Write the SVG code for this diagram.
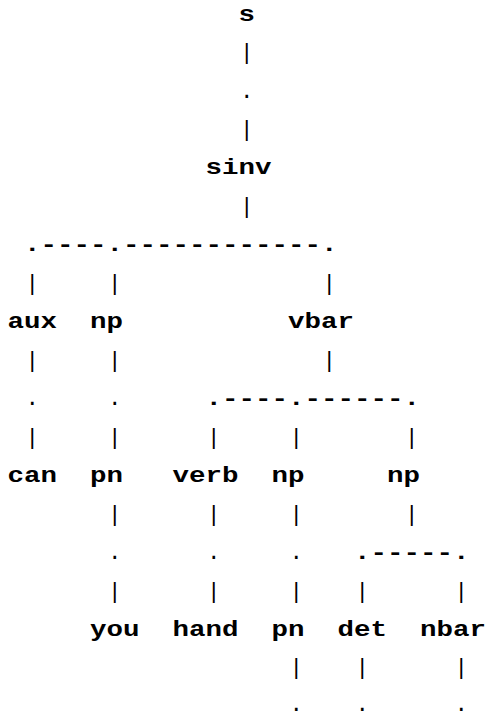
<svg xmlns="http://www.w3.org/2000/svg" width="485" height="717" viewBox="0 0 485 717">
  <style>
    text { font-family: "Liberation Mono", "DejaVu Sans Mono", monospace; font-size: 22.5px; fill: #000; }
    .lbl { font-weight: bold; }
    .bar { font-weight: normal; }
    .dot { font-weight: normal; }
    .rule { font-weight: bold; }
  </style>
  <rect width="485" height="717" fill="#fff"/>
  <!-- character grid: cell left x = 7.6 + 16.5*col ; baseline y = 20.6 + 38.46*row -->
  <g id="connectors">
    <!-- s -> sinv -->
    <text class="bar" x="240.1" y="59.1">|</text>
    <text class="dot" x="240.1" y="97.5">.</text>
    <text class="bar" x="240.1" y="136.0">|</text>
    <!-- sinv -> aux, np, vbar -->
    <text class="bar" x="240.1" y="212.9">|</text>
    <text class="rule" x="24.1" y="251.4" textLength="313.5" lengthAdjust="spacingAndGlyphs">.----.------------.</text>
    <text class="bar" x="25.6" y="289.8">|</text>
    <text class="bar" x="108.1" y="289.8">|</text>
    <text class="bar" x="322.6" y="289.8">|</text>
    <!-- aux -> can -->
    <text class="bar" x="25.6" y="366.7">|</text>
    <text class="dot" x="25.6" y="405.2">.</text>
    <text class="bar" x="25.6" y="443.7">|</text>
    <!-- np -> pn -->
    <text class="bar" x="108.1" y="366.7">|</text>
    <text class="dot" x="108.1" y="405.2">.</text>
    <text class="bar" x="108.1" y="443.7">|</text>
    <!-- vbar -> verb, np, np -->
    <text class="bar" x="322.6" y="366.7">|</text>
    <text class="rule" x="205.6" y="405.2" textLength="214.5" lengthAdjust="spacingAndGlyphs">.----.------.</text>
    <text class="bar" x="207.1" y="443.7">|</text>
    <text class="bar" x="289.6" y="443.7">|</text>
    <text class="bar" x="405.1" y="443.7">|</text>
    <!-- pn -> you -->
    <text class="bar" x="108.1" y="520.6">|</text>
    <text class="dot" x="108.1" y="559.0">.</text>
    <text class="bar" x="108.1" y="597.5">|</text>
    <!-- verb -> hand -->
    <text class="bar" x="207.1" y="520.6">|</text>
    <text class="dot" x="207.1" y="559.0">.</text>
    <text class="bar" x="207.1" y="597.5">|</text>
    <!-- np -> pn -->
    <text class="bar" x="289.6" y="520.6">|</text>
    <text class="dot" x="289.6" y="559.0">.</text>
    <text class="bar" x="289.6" y="597.5">|</text>
    <!-- np -> det, nbar -->
    <text class="bar" x="405.1" y="520.6">|</text>
    <text class="rule" x="354.1" y="559.0" textLength="115.5" lengthAdjust="spacingAndGlyphs">.-----.</text>
    <text class="bar" x="355.6" y="597.5">|</text>
    <text class="bar" x="454.6" y="597.5">|</text>
    <!-- open leaves below pn, det, nbar -->
    <text class="bar" x="289.6" y="674.4">|</text>
    <text class="bar" x="355.6" y="674.4">|</text>
    <text class="bar" x="454.6" y="674.4">|</text>
    <text class="dot" x="289.6" y="711">.</text>
    <text class="dot" x="355.6" y="711">.</text>
    <text class="dot" x="454.6" y="711">.</text>
  </g>
  <g id="node-s"><text class="lbl" x="238.6" y="20.6" textLength="16.5" lengthAdjust="spacingAndGlyphs">s</text></g>
  <g id="node-sinv"><text class="lbl" x="205.6" y="174.4" textLength="66" lengthAdjust="spacingAndGlyphs">sinv</text></g>
  <g id="node-aux"><text class="lbl" x="7.6" y="328.3" textLength="49.5" lengthAdjust="spacingAndGlyphs">aux</text></g>
  <g id="node-np1"><text class="lbl" x="90.1" y="328.3" textLength="33" lengthAdjust="spacingAndGlyphs">np</text></g>
  <g id="node-vbar"><text class="lbl" x="288.1" y="328.3" textLength="66" lengthAdjust="spacingAndGlyphs">vbar</text></g>
  <g id="node-can"><text class="lbl" x="7.6" y="482.1" textLength="49.5" lengthAdjust="spacingAndGlyphs">can</text></g>
  <g id="node-pn1"><text class="lbl" x="90.1" y="482.1" textLength="33" lengthAdjust="spacingAndGlyphs">pn</text></g>
  <g id="node-verb"><text class="lbl" x="172.6" y="482.1" textLength="66" lengthAdjust="spacingAndGlyphs">verb</text></g>
  <g id="node-np2"><text class="lbl" x="271.6" y="482.1" textLength="33" lengthAdjust="spacingAndGlyphs">np</text></g>
  <g id="node-np3"><text class="lbl" x="387.1" y="482.1" textLength="33" lengthAdjust="spacingAndGlyphs">np</text></g>
  <g id="node-you"><text class="lbl" x="90.1" y="636.0" textLength="49.5" lengthAdjust="spacingAndGlyphs">you</text></g>
  <g id="node-hand"><text class="lbl" x="172.6" y="636.0" textLength="66" lengthAdjust="spacingAndGlyphs">hand</text></g>
  <g id="node-pn2"><text class="lbl" x="271.6" y="636.0" textLength="33" lengthAdjust="spacingAndGlyphs">pn</text></g>
  <g id="node-det"><text class="lbl" x="337.6" y="636.0" textLength="49.5" lengthAdjust="spacingAndGlyphs">det</text></g>
  <g id="node-nbar"><text class="lbl" x="420.1" y="636.0" textLength="66" lengthAdjust="spacingAndGlyphs">nbar</text></g>
</svg>
